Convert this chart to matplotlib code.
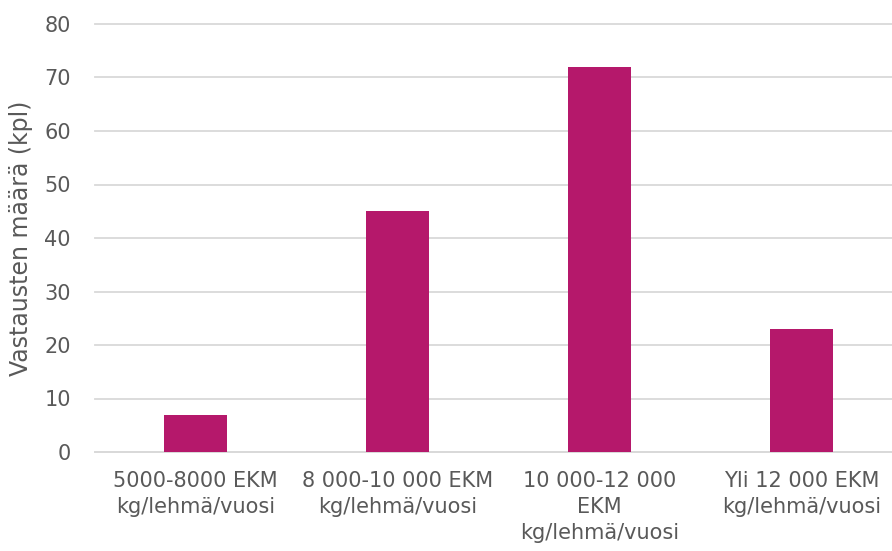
import matplotlib
matplotlib.use("Agg")
import matplotlib.pyplot as plt

# Vastausten jakauma lehmäkohtaisen tuotostason mukaan
categories = [
    "5000-8000 EKM\nkg/lehmä/vuosi",
    "8 000-10 000 EKM\nkg/lehmä/vuosi",
    "10 000-12 000\nEKM\nkg/lehmä/vuosi",
    "Yli 12 000 EKM\nkg/lehmä/vuosi",
]
counts = [7, 45, 72, 23]
y_ticks = [0, 10, 20, 30, 40, 50, 60, 70, 80]

BAR = "#B5186B"
TEXT = "#595959"
GRID = "#D9D9D9"

fig = plt.figure(figsize=(8.92, 5.51), dpi=100)
ax = fig.add_axes([94.5 / 892, 99 / 551, 808 / 892, 428 / 551])

x = range(len(categories))
ax.bar(x, counts, width=0.31, color=BAR, zorder=3)

ax.set_xlim(-0.5, len(categories) - 0.5)
ax.set_ylim(0, 80)
ax.set_yticks(y_ticks)
ax.set_xticks(list(x))
ax.set_xticklabels(categories, linespacing=1.35)

ax.grid(axis="y", color=GRID, linewidth=1.3, zorder=0)
for gl in ax.get_ygridlines():
    gl.set_clip_on(False)
for side in ("top", "right", "left"):
    ax.spines[side].set_visible(False)
ax.spines["bottom"].set_color(GRID)
ax.spines["bottom"].set_linewidth(1.3)

ax.tick_params(axis="both", length=0, labelsize=15, labelcolor=TEXT)
ax.tick_params(axis="y", pad=17)
ax.tick_params(axis="x", pad=14)
ax.set_ylabel("Vastausten määrä (kpl)", fontsize=17, color=TEXT, labelpad=8)

fig.savefig("out.png", dpi=100)
